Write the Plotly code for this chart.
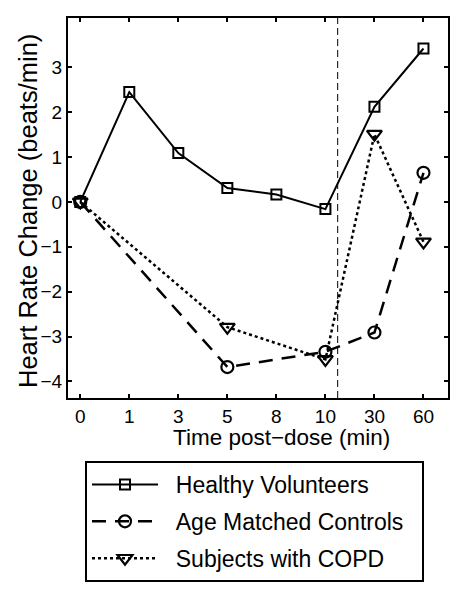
import plotly.graph_objects as go

categories = ["0", "1", "3", "5", "8", "10", "30", "60"]
healthy = [0.0, 2.45, 1.09, 0.31, 0.165, -0.16, 2.12, 3.42]
controls = [0.0, None, None, -3.68, None, -3.34, -2.91, 0.65]
copd = [0.0, None, None, -2.79, None, -3.51, 1.51, -0.89]
y_ticks = [-4, -3, -2, -1, 0, 1, 2, 3]
ref_line_pos = 5.25

FONT = "Liberation Sans, Arial, Helvetica, sans-serif"
PAD = "\u00a0\u00a0"

def pts(vals):
    xs = [i for i, v in enumerate(vals) if v is not None]
    ys = [v for v in vals if v is not None]
    return xs, ys

fig = go.Figure()
x, y = pts(healthy)
fig.add_trace(go.Scatter(x=x, y=y, mode="lines+markers", name=PAD + "Healthy Volunteers",
    legendgroup="a",
    line=dict(color="black", width=2),
    marker=dict(symbol="square-open", size=10, color="black", line=dict(width=2))))
x, y = pts(controls)
fig.add_trace(go.Scatter(x=x, y=y, mode="lines+markers", name=PAD + "Age Matched Controls" + PAD,
    legendgroup="b",
    line=dict(color="black", width=2.5, dash="14px,9px"),
    marker=dict(symbol="circle-open", size=12, color="black", line=dict(width=2.2))))
x, y = pts(copd)
fig.add_trace(go.Scatter(x=x, y=y, mode="lines+markers", name=PAD + "Subjects with COPD",
    legendgroup="c",
    line=dict(color="black", width=2.5, dash="3px,3px"),
    marker=dict(symbol="triangle-down-open", size=13, color="black", line=dict(width=2.2))))

fig.add_shape(type="line", x0=ref_line_pos, x1=ref_line_pos, y0=0, y1=1,
              xref="x", yref="paper", line=dict(color="black", width=1, dash="7px,4px"))

fig.update_xaxes(range=[-0.25, 7.5], tickvals=list(range(len(categories))), ticktext=categories,
                 showline=True, linecolor="black", linewidth=2, mirror="ticks",
                 ticks="inside", ticklen=4, tickwidth=1.5, tickcolor="black",
                 showgrid=False, zeroline=False,
                 tickfont=dict(family=FONT, size=19, color="black"))
fig.update_yaxes(range=[-4.37, 4.1], tickvals=y_ticks,
                 showline=True, linecolor="black", linewidth=2, mirror="ticks",
                 ticks="inside", ticklen=4, tickwidth=1.5, tickcolor="black",
                 showgrid=False, zeroline=False,
                 tickfont=dict(family=FONT, size=19, color="black"))

fig.add_annotation(text="Time post\u2212dose (min)", xref="paper", yref="paper",
                   x=(281 - 68) / 380, y=(398 - 437) / 380, xanchor="center", yanchor="middle",
                   showarrow=False, font=dict(family=FONT, size=22.5, color="black"))
fig.add_annotation(text="Heart Rate Change (beats/min)", xref="paper", yref="paper",
                   x=(28 - 68) / 380, y=(398 - 211) / 380, xanchor="center", yanchor="middle",
                   textangle=-90, showarrow=False, font=dict(family=FONT, size=25.5, color="black"))

fig.update_layout(
    width=466, height=599,
    margin=dict(l=68, r=18, t=18, b=201),
    plot_bgcolor="white", paper_bgcolor="white",
    showlegend=True,
    legend=dict(x=(85 - 68) / 380, y=(398 - 461) / 380, xanchor="left", yanchor="top",
                bordercolor="black", borderwidth=2, bgcolor="white",
                font=dict(family=FONT, size=23, color="black"),
                itemwidth=66, tracegroupgap=4, traceorder="grouped"),
)

fig.write_html("out.html", config={"displayModeBar": False},
               post_script="document.body.style.margin='0';document.body.style.overflow='hidden';")
